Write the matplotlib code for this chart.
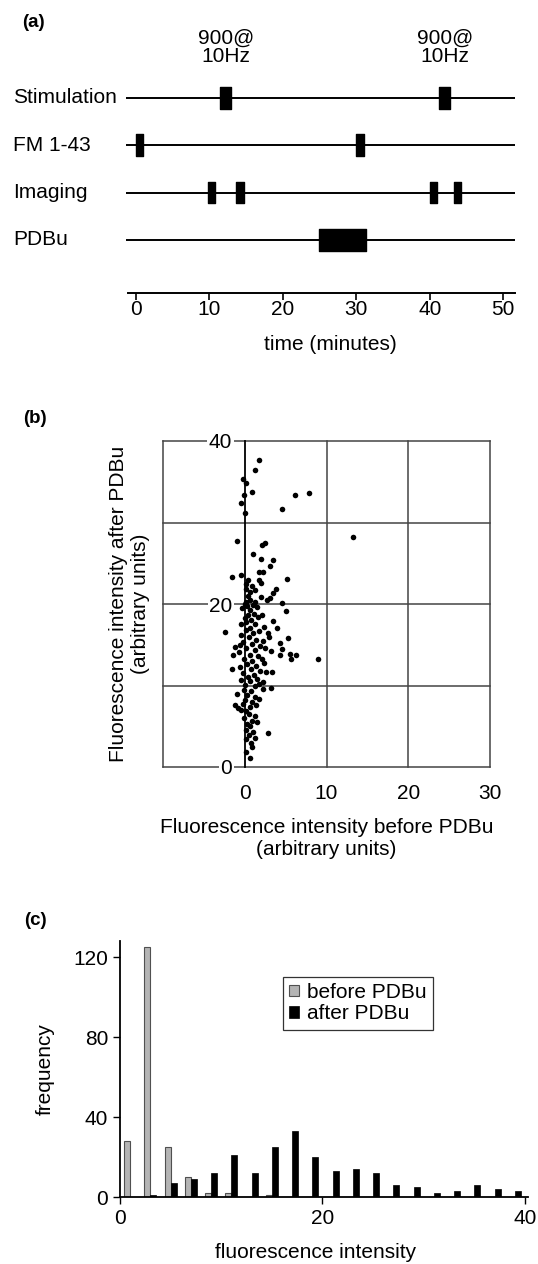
import matplotlib
matplotlib.use("Agg")
import matplotlib.pyplot as plt
import matplotlib.transforms as mtransforms
import numpy as np

plt.rcParams['font.family'] = ['Liberation Sans', 'DejaVu Sans']
plt.rcParams['font.size'] = 15

# (a) protocol timeline, times in minutes
rows = ["Stimulation", "FM 1-43", "Imaging", "PDBu"]
row_events = [
    [(11.5, 1.5), (41.3, 1.5)],
    [(0.0, 1.0), (30.0, 1.0)],
    [(9.8, 1.0), (13.7, 1.0), (40.0, 1.0), (43.3, 1.0)],
    [(25.0, 6.3)],
]
stim_label = "900@\n10Hz"
time_ticks = [0, 10, 20, 30, 40, 50]

# (b) fluorescence before / after PDBu (arbitrary units)
before = [1.8, 1.2, -0.2, 0.1, 0.9, -0.1, -0.5, 0.0, 6.2, 7.9, 4.6, 13.2, -0.9, 2.1, 2.5,
          1.0, 2.0, 3.5, 3.1, -0.4, -1.5, 1.8, 2.2, 5.2, 1.7, 2.0, 0.4, 0.2, 0.6, 3.8,
          3.4, 2.0, 2.7, 3.1, 0.4, 0.6, 0.2, 4.5, 5.0, 0.6, 0.4, 0.8, 0.2, 3.5, -2.4,
          3.9, 5.3, -1.2, -0.6, 4.3, 4.5, 4.3, 5.5, 6.3, 5.7, 8.9, -1.4, -1.5, 3.3, 3.2,
          -1.0, -1.2, -0.8, -0.4, 2.8, 0.1, 0.6, 0.9,
          0.9, 1.3, 0.1, 0.3, 1.0, 1.5, 0.0, 1.2, -0.3, 1.1, 1.6, 0.0, 2.1, 1.3, -0.4,
          2.4, 0.7, 0.1, 1.0, 1.8, 2.8, -0.5, 0.5, 1.4, 2.2, 3.0, -0.2, 0.9, 1.9, 0.2,
          1.2, 2.5, 3.2, -0.7, 0.6, 1.6, 2.1, -0.1, 0.9, 0.3, 1.4, 2.4, -0.6, 0.8, 1.9,
          -0.2, 1.1, 2.6, 0.4, -0.4, 0.7, 1.5, 2.2, 0.0, 1.2, 2.2, 1.8, -0.1, 0.8, 0.3,
          1.3, 0.0, 0.9, 1.7, -0.2, 0.6, 1.4, 0.2, 0.5, 1.2, -0.1, 0.9, 0.3, 1.5, 0.7,
          0.2, 1.0, 0.5, 1.3, 0.1, 0.8]
after = [37.7, 36.4, 35.3, 34.9, 33.7, 33.4, 32.4, 31.2, 33.4, 33.6, 31.6, 28.2, 27.7, 27.3, 27.5,
         26.1, 25.5, 25.4, 24.7, 23.6, 23.3, 23.9, 23.9, 23.1, 23.0, 22.6, 22.9, 21.8, 21.5, 21.9,
         21.4, 20.9, 20.5, 20.7, 21.0, 20.5, 20.3, 20.1, 19.2, 19.3, 18.6, 18.0, 17.8, 17.9, 16.6,
         17.0, 15.8, 14.7, 15.0, 15.2, 14.5, 13.7, 13.9, 13.7, 13.2, 13.3, 13.7, 12.0, 11.7, 9.7,
         8.9, 7.6, 7.3, 7.0, 4.2, 1.9, 1.1, 2.5,
         22.2, 21.7, 22.4, 19.8, 19.9, 19.6, 20.0, 20.3, 19.5, 18.8, 18.4, 18.3, 18.6, 17.5, 17.6,
         17.2, 17.1, 16.8, 16.5, 16.7, 16.4, 16.2, 15.9, 15.6, 15.5, 15.9, 15.3, 15.1, 14.9, 14.6,
         14.3, 14.6, 14.2, 14.1, 13.8, 13.6, 13.3, 13.2, 13.0, 12.6, 12.4, 12.8, 12.3, 12.0, 11.8,
         11.5, 11.3, 11.6, 11.0, 10.7, 10.5, 10.8, 10.4, 10.1, 9.9, 9.6, 10.2, 9.5, 9.3, 8.8,
         8.6, 8.2, 8.0, 8.3, 7.7, 7.4, 7.6, 6.9, 6.5, 6.3, 6.0, 5.7, 5.3, 5.5, 5.0,
         4.6, 4.3, 3.9, 3.6, 3.4, 3.0]

# (c) histogram, bins 2 units wide centred on odd values
bin_centers = [1, 3, 5, 7, 9, 11, 13, 15, 17, 19, 21, 23, 25, 27, 29, 31, 33, 35, 37, 39]
freq_before = [28, 125, 25, 10, 2, 2, 0, 1, 0, 0, 0, 0, 0, 0, 0, 0, 0, 0, 0, 0]
freq_after = [0, 1, 7, 9, 12, 21, 12, 25, 33, 20, 13, 14, 12, 6, 5, 2, 3, 6, 4, 3]

W, H = 538, 1264
fig = plt.figure(figsize=(W / 100, H / 100), dpi=100)


def fx(px):
    return px / W


def fy(py):
    return 1 - py / H


# ---------------- panel (a) ----------------
ax1 = fig.add_axes([fx(120), fy(330), fx(400), 310 / H])
x0_px, px_per_min = 135.7, 7.35
ax1.set_xlim((120 - x0_px) / px_per_min, (520 - x0_px) / px_per_min)
row_y = [3, 2, 1, 0]
axis_y = -1.12
ax1.set_ylim(-1.9, 4.64)
for y, ev in zip(row_y, row_events):
    ax1.hlines(y, -1.3, 51.6, color='black', lw=1.4)
    ax1.broken_barh(ev, (y - 0.23, 0.46), facecolor='black', edgecolor='black')
for s, w in row_events[0]:
    ax1.text(s + w / 2, 4.06, stim_label, ha='center', va='center', fontsize=15, linespacing=0.95)
lab_tr = mtransforms.blended_transform_factory(fig.transFigure, ax1.transData)
for y, name in zip(row_y, rows):
    ax1.text(fx(13), y, name, transform=lab_tr, ha='left', va='center', fontsize=15)
for s in ['top', 'right', 'left']:
    ax1.spines[s].set_visible(False)
ax1.spines['bottom'].set_position(('data', axis_y))
ax1.spines['bottom'].set_bounds(-1.0, 51.6)
ax1.spines['bottom'].set_linewidth(1.4)
ax1.set_yticks([])
ax1.set_xticks(time_ticks)
ax1.tick_params(axis='x', direction='out', length=5, width=1.2, pad=0, labelsize=15)
ax1.set_xlabel("time (minutes)", fontsize=15)
ax1.xaxis.set_label_coords(0.526, -0.017)
ax1.patch.set_visible(False)
fig.text(fx(22), fy(14), "(a)", fontweight='bold', fontsize=13.5, va='top', ha='left')

# ---------------- panel (b) ----------------
ax2 = fig.add_axes([fx(163), fy(767), fx(327), 326 / H])
ax2.set_xlim(-10, 30)
ax2.set_ylim(0, 40)
for v in [-10, 10, 20, 30]:
    ax2.axvline(v, color='#444444', lw=1.1, zorder=0.5, clip_on=False)
for v in [0, 10, 20, 30, 40]:
    ax2.axhline(v, color='#444444', lw=1.1, zorder=0.5, clip_on=False)
ax2.scatter(before, after, s=16, color='black', zorder=3, linewidths=0)
for s in ['top', 'right', 'bottom']:
    ax2.spines[s].set_visible(False)
ax2.spines['left'].set_position(('data', 0))
ax2.spines['left'].set_linewidth(1.3)
ax2.set_xticks([0, 10, 20, 30])
ax2.set_yticks([0, 20, 40])
ax2.tick_params(axis='x', length=0, pad=12, labelsize=15)
ax2.tick_params(axis='y', length=0, pad=9, labelsize=15)
for lbl in ax2.get_yticklabels():
    lbl.set_bbox(dict(facecolor='white', edgecolor='none', pad=1))
ax2.set_xlabel("Fluorescence intensity before PDBu\n(arbitrary units)", fontsize=15, linespacing=1.2)
ax2.xaxis.set_label_coords(0.5, -0.155)
ax2.set_ylabel("Fluorescence intensity after PDBu\n(arbitrary units)", fontsize=15, linespacing=1.2)
ax2.yaxis.set_label_coords(-0.04, 0.5)
fig.text(fx(23), fy(410), "(b)", fontweight='bold', fontsize=13.5, va='top', ha='left')

# ---------------- panel (c) ----------------
ax3 = fig.add_axes([fx(120), fy(1197.3), fx(408), (1197.3 - 941.3) / H])
bw = 0.6
ax3.bar(np.array(bin_centers) - bw / 2, freq_before, width=bw, color='#b4b4b4',
        edgecolor='#505050', linewidth=0.8, label='before PDBu')
ax3.bar(np.array(bin_centers) + bw / 2, freq_after, width=bw, color='black',
        edgecolor='black', linewidth=0.5, label='after PDBu')
ax3.set_xlim(0, 40.3)
ax3.set_ylim(0, 128)
for s in ['top', 'right']:
    ax3.spines[s].set_visible(False)
ax3.spines['left'].set_linewidth(1.3)
ax3.spines['bottom'].set_linewidth(1.3)
ax3.set_xticks([0, 20, 40])
ax3.set_yticks([0, 40, 80, 120])
ax3.tick_params(axis='both', direction='out', length=5, width=1.0, labelsize=15)
ax3.set_xlabel("fluorescence intensity", fontsize=15)
ax3.xaxis.set_label_coords(0.48, -0.18)
ax3.set_ylabel("frequency", fontsize=15)
ax3.yaxis.set_label_coords(-0.16, 0.5)
leg = ax3.legend(loc='upper left', bbox_to_anchor=(fx(283), fy(977)), bbox_transform=fig.transFigure,
                 fancybox=False, edgecolor='#333333', framealpha=1, fontsize=15,
                 handlelength=0.45, handleheight=0.45, handletextpad=0.4, borderpad=0.3,
                 labelspacing=0.1, borderaxespad=0)
leg.get_frame().set_linewidth(0.9)
fig.text(fx(24), fy(912), "(c)", fontweight='bold', fontsize=13.5, va='top', ha='left')

fig.savefig("out.png", dpi=100)
